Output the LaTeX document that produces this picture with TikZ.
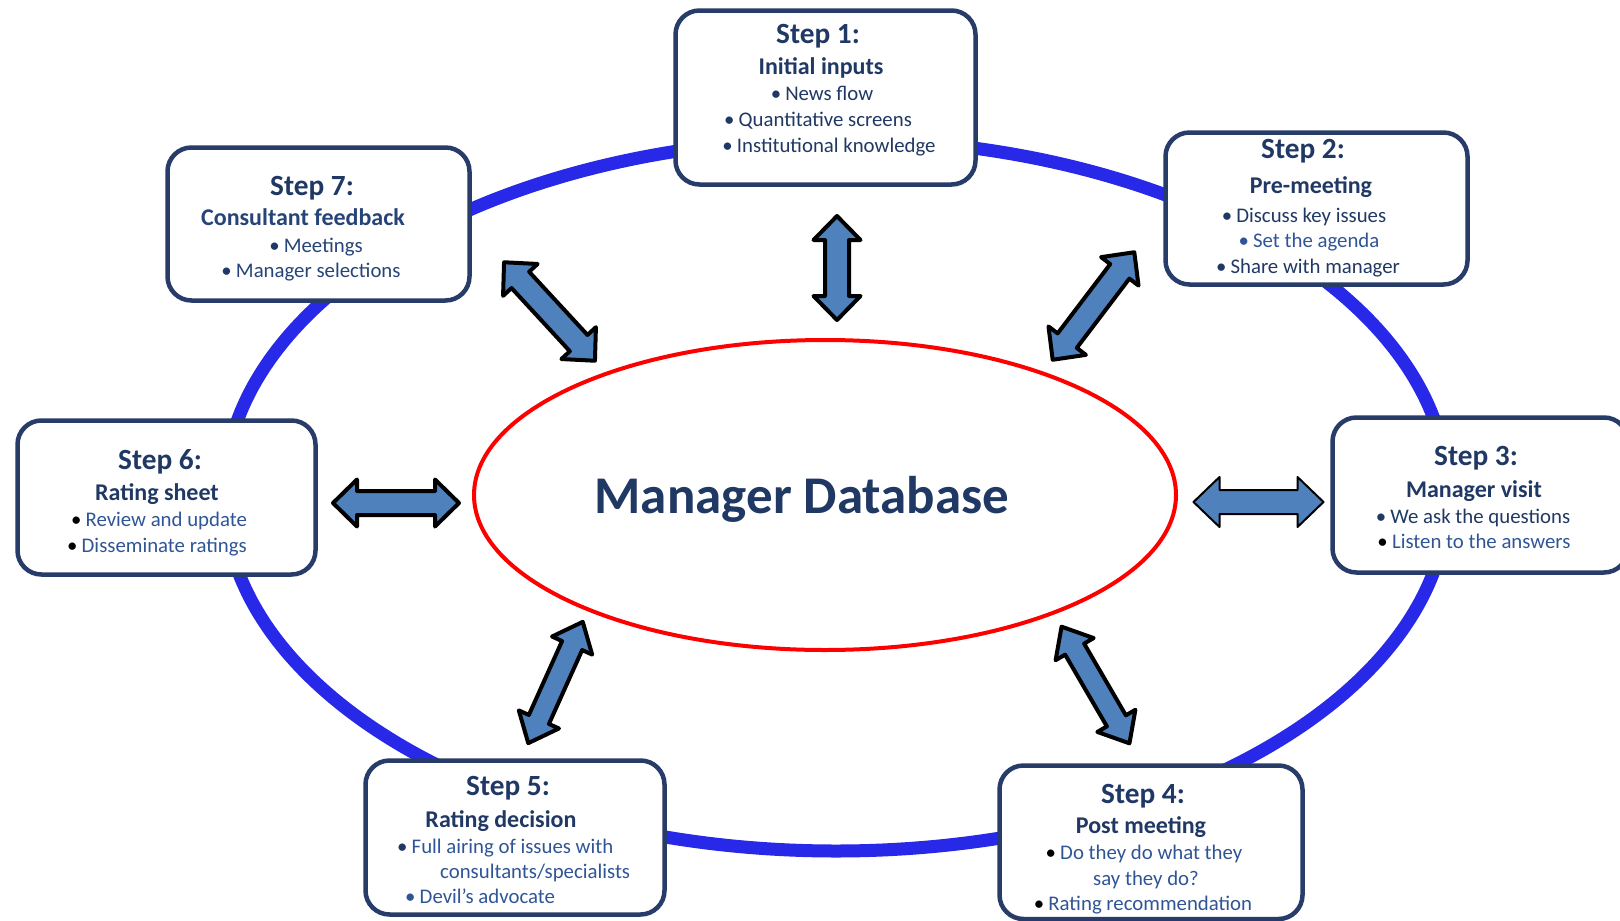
\documentclass[tikz,border=0pt]{standalone}
\usepackage{fontspec}
\setmainfont{Carlito}
\definecolor{navy}{RGB}{32,56,100}
\definecolor{itemlight}{RGB}{47,85,151}
\definecolor{itemmid}{RGB}{38,68,120}
\definecolor{boxc}{RGB}{40,60,105}
\definecolor{ringc}{RGB}{40,40,232}
\definecolor{arrowc}{RGB}{79,129,189}
\definecolor{redc}{RGB}{255,0,0}
\tikzset{
  stepbox/.style={draw=boxc, line width=4.5pt, rounded corners=24pt, fill=white, inner sep=0pt},
  ttl/.style={font=\fontsize{29.3}{31}\selectfont\bfseries, text=navy, anchor=base, inner sep=0pt},
  sub/.style={font=\fontsize{24}{26}\selectfont\bfseries, text=navy, anchor=base, inner sep=0pt},
  itm/.style={font=\fontsize{20.8}{23}\selectfont, anchor=base, inner sep=0pt},
  itmw/.style={itm, anchor=base west},
  arrowline/.style={draw=black, fill=arrowc, line width=4pt, line join=round},
  pics/dblarrow/.style n args={5}{code={
    \path[arrowline, line width=#5]
      ({-#1/2},0) -- ({-#1/2+#4},{#3/2}) -- ({-#1/2+#4},{#2/2}) -- ({#1/2-#4},{#2/2})
      -- ({#1/2-#4},{#3/2}) -- ({#1/2},0) -- ({#1/2-#4},{-#3/2}) -- ({#1/2-#4},{-#2/2})
      -- ({-#1/2+#4},{-#2/2}) -- ({-#1/2+#4},{-#3/2}) -- cycle;
  }}
}
\newcommand{\bul}[1]{{\color{#1}•}\hspace{0.2em}}
\begin{document}
\begin{tikzpicture}[x=1pt, y=-1pt]
\useasboundingbox (0,0) rectangle (1620,921);
\clip (0,0) rectangle (1620,921);
\fill[white] (0,0) rectangle (1620,921);
% outer ring
\draw[ringc, line width=13pt] (836,495) ellipse [x radius=612pt, y radius=356pt];
% central ellipse
\draw[redc, line width=4pt] (825,495) ellipse [x radius=351pt, y radius=155pt];
\node[font=\fontsize{53}{55}\selectfont\bfseries, text=navy, anchor=base, inner sep=0pt] (db) at (802,513) {Manager Database};
% block arrows
\pic[rotate=90] (a1) at (837,268) {dblarrow={104}{24}{47}{24}{4pt}};
\pic[rotate=52.8] (a2) at (1093.5,306) {dblarrow={135}{24}{47}{24}{4pt}};
\pic[rotate=-47.3] (a7) at (549.5,311.5) {dblarrow={134}{24}{47}{24}{4pt}};
\pic (a6) at (396,503) {dblarrow={126}{24}{47}{24}{4pt}};
\pic (a3) at (1258.5,502) {dblarrow={130}{24}{50}{26}{2pt}};
\pic[rotate=65.8] (a5) at (555.5,682.5) {dblarrow={133}{22}{44}{26}{4pt}};
\pic[rotate=-59.8] (a4) at (1095.5,685) {dblarrow={135}{22}{44}{26}{4pt}};
% boxes
\node[stepbox, minimum width=300pt, minimum height=174pt] (s1) at (825.5,97.5) {};
\node[stepbox, minimum width=302pt, minimum height=152pt] (s2) at (1316.5,208.5) {};
\node[stepbox, minimum width=302pt, minimum height=153pt] (s7) at (318.5,224) {};
\node[stepbox, minimum width=298pt, minimum height=154pt] (s6) at (166.5,497.5) {};
\node[stepbox, minimum width=295.5pt, minimum height=155pt] (s3) at (1480.25,495) {};
\node[stepbox, minimum width=299pt, minimum height=154pt] (s5) at (515,837.5) {};
\node[stepbox, minimum width=303pt, minimum height=153.5pt] (s4) at (1151,842.25) {};
% Step 1
\node[ttl] (s1a) at (818,43) {Step 1:};
\node[sub] (s1b) at (821,74) {Initial inputs};
\node[itm, text=navy] (s1c) at (822,100) {\bul{navy}News flow};
\node[itm, text=navy] (s1d) at (818,126) {\bul{navy}Quantitative screens};
\node[itm, text=navy] (s1e) at (829,152) {\bul{navy}Institutional knowledge};
% Step 2
\node[ttl] (s2a) at (1303,158) {Step 2:};
\node[sub] (s2b) at (1311,193) {Pre-meeting};
\node[itm, text=navy] (s2c) at (1304,222) {\bul{navy}Discuss key issues};
\node[itm, text=itemlight] (s2d) at (1309,247) {\bul{itemlight}Set the agenda};
\node[itm, text=navy] (s2e) at (1308,273) {\bul{navy}Share with manager};
% Step 7
\node[ttl] (s7a) at (312,195) {Step 7:};
\node[sub, text=itemmid] (s7b) at (303,225) {Consultant feedback};
\node[itm, text=itemmid] (s7c) at (316,252) {\bul{navy}Meetings};
\node[itm, text=itemmid] (s7d) at (311,277) {\bul{navy}Manager selections};
% Step 6
\node[ttl] (s6a) at (160,469) {Step 6:};
\node[sub] (s6b) at (157,500) {Rating sheet};
\node[itm, text=itemlight] (s6c) at (159,526) {\bul{black}Review and update};
\node[itm, text=itemlight] (s6d) at (157,552) {\bul{black}Disseminate ratings};
% Step 3
\node[ttl] (s3a) at (1476,465) {Step 3:};
\node[sub] (s3b) at (1474,497) {Manager visit};
\node[itm, text=navy] (s3c) at (1473,523) {\bul{navy}We ask the questions};
\node[itm, text=itemlight] (s3d) at (1474,548) {\bul{black}Listen to the answers};
% Step 5
\node[ttl] (s5a) at (508,795) {Step 5:};
\node[sub] (s5b) at (501,827) {Rating decision};
\node[itmw, text=itemlight] (s5c) at (397,853) {\bul{navy}Full airing of issues with};
\node[itmw, text=itemlight] (s5d) at (440,878) {consultants/specialists};
\node[itmw, text=itemlight] (s5e) at (405,903) {\bul{itemlight}Devil’s advocate};
% Step 4
\node[ttl] (s4a) at (1143,803) {Step 4:};
\node[sub] (s4b) at (1141,833) {Post meeting};
\node[itm, text=itemlight] (s4c) at (1144,859) {\bul{black}Do they do what they};
\node[itm, text=itemlight] (s4d) at (1146,885) {say they do?};
\node[itm, text=itemlight] (s4e) at (1143,910) {\bul{black}Rating recommendation};
\end{tikzpicture}
\end{document}
